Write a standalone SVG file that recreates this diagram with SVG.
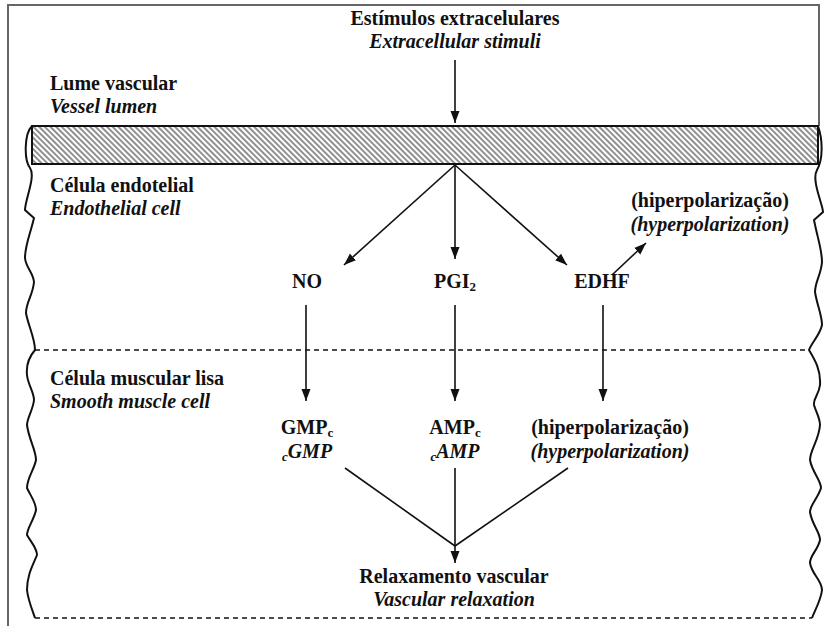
<svg xmlns="http://www.w3.org/2000/svg" width="825" height="626" viewBox="0 0 825 626">
<defs>
<pattern id="hatch" patternUnits="userSpaceOnUse" width="4" height="4" patternTransform="rotate(45)">
<line x1="0" y1="2" x2="4" y2="2" stroke="#222" stroke-width="1"/>
</pattern>
<marker id="ah" viewBox="0 0 12 10" refX="12" refY="5" markerWidth="12" markerHeight="10" markerUnits="userSpaceOnUse" orient="auto">
<path d="M0,0.5 L12,5 L0,9.5 z" fill="#111"/>
</marker>
</defs>
<style>
text{font-family:'Liberation Serif','DejaVu Serif',serif;font-weight:bold;font-size:20px;fill:#111}
.i{font-style:italic}
.m{text-anchor:middle}
.edge{stroke:#111;stroke-width:1.6;fill:none}
.arr{stroke:#111;stroke-width:1.6;fill:none;marker-end:url(#ah)}
.dash{stroke:#111;stroke-width:1.3;stroke-dasharray:5 4;fill:none}
.wave{stroke:#111;stroke-width:2;fill:none}
.sub{font-size:13px}
</style>
<rect width="825" height="626" fill="#fff"/>
<g id="frame">
<path d="M8,626 V5 H819 V126" stroke="#666" stroke-width="2" fill="none"/>
</g>
<g id="tissue">
<rect id="lumen-wall" x="32" y="126" width="786" height="38" fill="url(#hatch)" stroke="#111" stroke-width="2"/>
<path class="wave" d="M32,126 C24,134 24,160 30,168 S25,200 25,210 L34,218 C30,235 25,245 25,258 C26,268 33,272 34,282 C33,295 26,302 26,313 C28,325 35,338 35,350 C28,358 26,365 27,375 C28,385 34,392 34,400 C33,410 27,418 27,425 C29,440 36,450 36,460 C34,470 27,478 27,488 C30,495 36,502 36,510 C34,520 27,528 27,535 C31,542 37,548 37,555 C33,565 27,575 27,590 C28,600 33,612 35,618"/>
<path class="wave" d="M818,126 C823,140 823,160 817,170 S823,205 823,212 L814,220 C818,240 822,250 822,262 C821,275 815,282 815,292 C817,305 822,315 822,325 C820,335 812,342 809,350 C815,360 821,370 820,385 C819,395 813,398 814,405 C816,412 820,418 820,425 C819,440 810,450 810,460 C812,472 821,480 821,488 C818,498 810,505 810,512 C812,525 820,532 820,540 C818,550 810,555 810,563 C812,575 822,580 822,590 C821,600 815,610 812,618"/>
<line class="dash" x1="35" y1="350" x2="809" y2="350"/>
<line class="dash" x1="35" y1="618" x2="812" y2="618"/>
</g>
<g id="labels-regions">
<text x="50" y="90">Lume vascular</text>
<text x="50" y="113" class="i">Vessel lumen</text>
<text x="50" y="192">Célula endotelial</text>
<text x="50" y="215" class="i">Endothelial cell</text>
<text x="50" y="385">Célula muscular lisa</text>
<text x="50" y="408" class="i">Smooth muscle cell</text>
</g>
<g id="stimuli">
<text x="455" y="25" class="m">Estímulos extracelulares</text>
<text x="455" y="48" class="m i">Extracellular stimuli</text>
</g>
<g id="no"><text x="307" y="288" class="m">NO</text></g>
<g id="pgi2"><text x="455" y="288" class="m">PGI<tspan class="sub" dy="3">2</tspan></text></g>
<g id="edhf"><text x="602" y="288" class="m">EDHF</text></g>
<g id="hyper-endo">
<text x="710" y="207" class="m">(hiperpolarização)</text>
<text x="710" y="231" class="m i">(hyperpolarization)</text>
</g>
<g id="gmpc">
<text x="307" y="434" class="m">GMP<tspan class="sub" dy="3">c</tspan></text>
<text x="307" y="458" class="m i"><tspan class="sub" dy="3">c</tspan><tspan dy="-3">GMP</tspan></text>
</g>
<g id="ampc">
<text x="455" y="434" class="m">AMP<tspan class="sub" dy="3">c</tspan></text>
<text x="455" y="458" class="m i"><tspan class="sub" dy="3">c</tspan><tspan dy="-3">AMP</tspan></text>
</g>
<g id="hyper-muscle">
<text x="610" y="434" class="m">(hiperpolarização)</text>
<text x="610" y="458" class="m i">(hyperpolarization)</text>
</g>
<g id="relax">
<text x="454" y="583" class="m">Relaxamento vascular</text>
<text x="454" y="606" class="m i">Vascular relaxation</text>
</g>
<g id="connectors">
<line class="arr" x1="455" y1="60" x2="455" y2="123"/>
<line class="arr" x1="455" y1="165" x2="344" y2="265"/>
<line class="arr" x1="455" y1="165" x2="455" y2="259"/>
<line class="arr" x1="455" y1="165" x2="567" y2="265"/>
<line class="arr" x1="612" y1="275" x2="646" y2="243"/>
<line class="arr" x1="306" y1="305" x2="306" y2="401"/>
<line class="arr" x1="455" y1="305" x2="455" y2="401"/>
<line class="arr" x1="603" y1="305" x2="603" y2="401"/>
<line class="edge" x1="345" y1="468" x2="455" y2="546"/>
<line class="edge" x1="568" y1="468" x2="455" y2="546"/>
<line class="arr" x1="455" y1="468" x2="455" y2="563"/>
</g>
</svg>
